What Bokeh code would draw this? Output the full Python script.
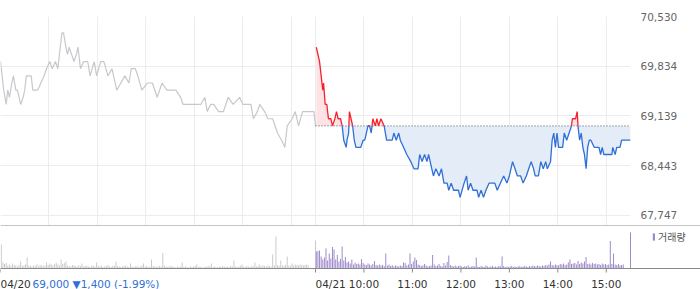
import numpy as np
from bokeh.plotting import figure
from bokeh.layouts import column
from bokeh.models import (Range1d, FixedTicker, NumeralTickFormatter, Span,
                          Legend, LegendItem)
from bokeh.core.properties import value
from bokeh.embed import file_html
from bokeh.resources import INLINE

# ---------------- data ----------------
SESSION = 390           # minutes 09:00-15:30
day_labels = ["04/20", "04/21"]
time_labels = ["10:00", "11:00", "12:00", "13:00", "14:00", "15:00"]
y_ticks = [67747, 68443, 69139, 69834, 70530]

day1_close = 69000
day1_change = -1400
day1_pct = -1.99

# minutes after 09:00, price
day1_time = [0, 2, 4, 7, 9, 11, 14, 16, 19, 21, 25, 28, 30, 32, 38, 40, 46, 50, 54, 57,
             61, 64, 68, 71, 73, 76, 78, 81, 83, 85, 88, 91, 94, 96, 99, 103, 108, 111, 116, 119,
             124, 128, 133, 138, 144, 149, 154, 159, 162, 167, 170, 175, 182, 188, 194, 200, 206, 210, 217, 223,
             226, 233, 239, 248, 253, 256, 260, 264, 270, 276, 282, 288, 296, 300, 310, 313, 318, 321, 327, 331,
             337, 343, 348, 352, 355, 361, 365, 369, 374, 380, 388, 390]
day1_price = [69900, 69700, 69500, 69300, 69500, 69400, 69600, 69700, 69500, 69500, 69300, 69400, 69500, 69700, 69700, 69500, 69500, 69600, 69700, 69800,
              69900, 69800, 69900, 69800, 70000, 70300, 70300, 70100, 70000, 70100, 70000, 69900, 70000, 70100, 69800, 69900, 69900, 69700, 69900, 69700,
              69900, 69900, 69700, 69800, 69500, 69600, 69700, 69600, 69800, 69800, 69700, 69500, 69600, 69600, 69400, 69600, 69500, 69500, 69500, 69400,
              69300, 69300, 69300, 69300, 69400, 69200, 69300, 69300, 69200, 69200, 69400, 69300, 69400, 69300, 69300, 69100, 69200, 69300, 69200, 69100,
              69100, 68900, 68800, 68700, 69000, 69100, 69200, 69000, 69200, 69200, 69200, 69000]

day2_time = [1, 5, 7, 9, 10, 12, 14, 16, 19, 21, 24, 26, 28, 31, 33, 35, 38, 39, 41, 42,
             44, 46, 48, 50, 56, 59, 61, 63, 65, 67, 69, 71, 74, 76, 78, 81, 85, 88, 91, 95,
             97, 100, 103, 105, 109, 113, 118, 122, 127, 129, 132, 135, 138, 140, 144, 146, 149, 153, 156, 159,
             163, 165, 168, 171, 177, 179, 184, 187, 189, 192, 195, 200, 202, 205, 208, 211, 215, 218, 222, 225,
             229, 233, 237, 240, 244, 247, 250, 254, 257, 261, 264, 267, 270, 272, 276, 279, 282, 285, 287, 291,
             293, 295, 297, 299, 301, 306, 308, 311, 314, 317, 318, 322, 324, 325, 327, 329, 331, 333, 335, 337,
             339, 341, 345, 351, 353, 355, 357, 361, 367, 368, 371, 373, 377, 379, 390]
day2_price = [70100, 69900, 69700, 69500, 69600, 69300, 69300, 69100, 69100, 69000, 69100, 69200, 69100, 69100, 69000, 68800, 68700, 68800, 68900, 69200,
              69100, 69000, 68800, 68700, 68700, 68800, 68800, 68900, 69000, 69000, 68900, 69100, 69000, 69100, 69000, 69100, 69000, 68800, 68800, 68800,
              68900, 68800, 68900, 68800, 68700, 68600, 68500, 68400, 68400, 68600, 68500, 68600, 68500, 68600, 68400, 68300, 68400, 68300, 68400, 68200,
              68200, 68100, 68200, 68100, 68100, 68000, 68200, 68300, 68100, 68200, 68100, 68100, 68000, 68100, 68000, 68100, 68200, 68200, 68200, 68100,
              68200, 68300, 68200, 68300, 68500, 68400, 68300, 68300, 68200, 68300, 68400, 68500, 68400, 68300, 68300, 68500, 68400, 68500, 68400, 68500,
              68800, 68900, 68700, 68900, 68700, 68700, 68900, 68800, 68900, 69000, 69100, 69100, 69200, 69000, 68800, 68900, 68700, 68600, 68400, 68700,
              68800, 68800, 68700, 68700, 68600, 68700, 68600, 68600, 68600, 68700, 68600, 68700, 68700, 68800, 68800]

# volume per 2-minute bin 09:00-15:20 (thousand shares), plus closing auction
day1_vol = [240, 60, 45, 55, 30, 40, 25, 50, 35, 30,
            20, 35, 70, 25, 30, 40, 110, 30, 25, 20,
            30, 25, 40, 20, 35, 30, 25, 30, 60, 35,
            50, 40, 30, 45, 55, 40, 30, 90, 45, 55,
            70, 30, 25, 20, 35, 30, 25, 20, 30, 25,
            50, 20, 25, 30, 20, 15, 30, 25, 20, 60,
            25, 20, 30, 15, 20, 25, 35, 20, 15, 25,
            30, 70, 25, 20, 15, 20, 25, 30, 20, 15,
            50, 20, 15, 20, 25, 15, 20, 30, 50, 20,
            25, 15, 20, 90, 25, 20, 15, 20, 25, 20,
            155, 25, 20, 15, 20, 25, 20, 15, 10, 20,
            15, 20, 60, 15, 20, 15, 10, 20, 15, 20,
            25, 40, 15, 20, 15, 10, 20, 15, 25, 20,
            50, 15, 20, 10, 15, 20, 15, 25, 20, 15,
            20, 15, 25, 20, 80, 20, 15, 20, 25, 40,
            20, 15, 25, 20, 15, 25, 20, 60, 20, 25,
            40, 20, 30, 25, 20, 30, 25, 20, 140, 30,
            320, 35, 25, 80, 30, 25, 35, 120, 30, 25,
            50, 30, 40, 35, 30, 40, 35, 30, 35, 40,
            30]
day1_close_vol = 280
day2_vol = [170, 175, 180, 120, 90, 110, 200, 80, 150, 100,
            215, 190, 90, 135, 70, 95, 220, 80, 115, 60,
            70, 50, 90, 40, 60, 45, 50, 40, 95, 55,
            40, 35, 50, 40, 30, 45, 75, 35, 30, 40,
            30, 35, 25, 150, 30, 40, 25, 35, 20, 30,
            25, 20, 30, 25, 60, 55, 30, 40, 150, 45,
            70, 110, 85, 40, 35, 25, 30, 45, 30, 20,
            25, 30, 135, 40, 25, 30, 45, 25, 20, 55,
            30, 65, 130, 35, 25, 20, 30, 20, 25, 30,
            20, 15, 25, 20, 30, 15, 20, 25, 20, 110,
            20, 15, 25, 20, 15, 30, 20, 15, 20, 25,
            15, 20, 15, 25, 20, 120, 25, 15, 20, 15,
            20, 25, 15, 20, 15, 20, 25, 15, 20, 25,
            20, 15, 25, 20, 30, 25, 20, 30, 25, 20,
            30, 25, 35, 30, 40, 70, 35, 30, 40, 35,
            30, 45, 40, 50, 35, 40, 60, 90, 45, 50,
            55, 40, 75, 45, 60, 50, 70, 115, 45, 50,
            40, 55, 45, 50, 40, 45, 35, 50, 40, 45,
            35, 40, 275, 45, 150, 40, 35, 45, 30, 35,
            40]
day2_close_vol = 360

# ---------------- styling ----------------
FONT = "DejaVu Sans"
GRID = "#ececec"
GREY_LINE = "#c6c8cc"
RED = "#f5222d"
BLUE = "#2f6fd6"
RED_FILL = "#fde3e6"
BLUE_FILL = "#e4ecf8"
VOL_GREY = "#c9c9cc"
VOL_PURPLE = "#9b87c9"
AXIS = "#8a8a8a"

PLOT_W = 630
TOTAL = 2 * SESSION

# ---------------- price panel ----------------
p = figure(frame_width=PLOT_W, frame_height=209, x_range=Range1d(0, TOTAL),
           y_range=Range1d(67607, 70530), output_backend="svg", toolbar_location=None,
           min_border_top=16, min_border_bottom=0, min_border_left=0, min_border_right=70,
           y_axis_location="right", outline_line_color=None,
           background_fill_color="white", border_fill_color="white")
p.xaxis.visible = False
hour_ticks = [60 * k for k in range(7)] + [SESSION + 60 * k for k in range(7)]
p.xgrid.ticker = FixedTicker(ticks=hour_ticks)
p.xgrid.grid_line_color = GRID
p.ygrid.grid_line_color = GRID
p.yaxis.ticker = FixedTicker(ticks=y_ticks)
p.yaxis.formatter = NumeralTickFormatter(format="0,0")
p.yaxis.axis_line_color = None
p.yaxis.major_tick_line_color = None
p.yaxis.minor_tick_line_color = None
p.yaxis.major_tick_out = 0
p.yaxis.major_tick_in = 0
p.yaxis.major_label_standoff = 10
p.yaxis.major_label_text_font = FONT
p.yaxis.major_label_text_font_size = "10.5px"
p.yaxis.major_label_text_color = "#666666"

# previous day (grey)
p.line(day1_time, day1_price, line_color=GREY_LINE, line_width=1.2)

# current day split around previous close
base = day1_close
t2 = np.array(day2_time, dtype=float)
v2 = np.array(day2_price, dtype=float)
xs, ys = [t2[0]], [v2[0]]
for i in range(1, len(t2)):
    a, b = v2[i - 1] - base, v2[i] - base
    if a * b < 0:
        f = a / (a - b)
        xs.append(t2[i - 1] + f * (t2[i] - t2[i - 1]))
        ys.append(base)
    xs.append(t2[i])
    ys.append(v2[i])
xs = np.array(xs) + SESSION
ys = np.array(ys)

p.varea(x=xs, y1=np.full_like(ys, base), y2=np.maximum(ys, base), fill_color=RED_FILL)
p.varea(x=xs, y1=np.full_like(ys, base), y2=np.minimum(ys, base), fill_color=BLUE_FILL)
p.line([SESSION + t2[0] - 1, TOTAL], [base, base], line_color="#555555", line_width=1,
       line_dash="1 2")
p.line(xs, np.where(ys <= base, ys, np.nan), line_color=BLUE, line_width=1.3)
p.line(xs, np.where(ys >= base, ys, np.nan), line_color=RED, line_width=1.3)

# ---------------- volume panel (bars + hand-made time axis inside frame) ----------------
U = 10.0                      # volume units per pixel
BAR_PX = 43                   # bar area height in px
LABEL_PX = 21                 # area below the axis line
q = figure(frame_width=700, frame_height=BAR_PX + LABEL_PX,
           x_range=Range1d(0, TOTAL * 700 / PLOT_W), y_range=Range1d(-LABEL_PX * U, BAR_PX * U),
           output_backend="svg", toolbar_location=None, min_border=0,
           x_axis_location=None, y_axis_location=None, outline_line_color=None,
           background_fill_color="white", border_fill_color="white")
q.grid.visible = False
d1_t = [2 * i + 1 for i in range(len(day1_vol))] + [SESSION]
d1_v = day1_vol + [day1_close_vol]
d2_t = [SESSION + 2 * i + 1 for i in range(len(day2_vol))] + [TOTAL]
d2_v = day2_vol + [day2_close_vol]
q.vbar(x=d1_t, top=d1_v, width=1.2, fill_color=VOL_GREY, line_color=None)
vb2 = q.vbar(x=d2_t, top=d2_v, width=1.2, fill_color=VOL_PURPLE, line_color=None)
q.add_layout(Span(location=BAR_PX * U, dimension="width", line_color=AXIS, line_width=1))
q.add_layout(Span(location=0, dimension="width", line_color=AXIS, line_width=1))

# ticks
x_ticks = [0, SESSION] + [SESSION + 60 * (k + 1) for k in range(len(time_labels))]
q.segment(x0=x_ticks, y0=[0] * len(x_ticks), x1=x_ticks, y1=[-4 * U] * len(x_ticks),
          line_color=AXIS, line_width=1)

LAB_Y = -9.5 * U
time_x = [SESSION + 60 * (k + 1) for k in range(len(time_labels))]
q.text(x=time_x, y=[LAB_Y] * len(time_x), text=time_labels, text_font=value(FONT),
       text_font_size="10.5px", text_color="#333333", text_align="center", text_baseline="top")
q.text(x=[0, SESSION], y=[LAB_Y, LAB_Y], text=day_labels, text_font=value(FONT),
       text_font_size="10.5px", text_color="#333333", text_align="left", text_baseline="top")
q.text(x=[0], y=[LAB_Y], x_offset=32,
       text=[f"{day1_close:,} \u25bc{abs(day1_change):,} ({day1_pct:.2f}%)"],
       text_font=value(FONT), text_font_size="10.5px", text_color=BLUE,
       text_align="left", text_baseline="top")

leg = Legend(items=[LegendItem(label="거래량", renderers=[vb2])], location=(652, 45),
             glyph_width=3, glyph_height=9, label_height=9, label_standoff=3,
             label_text_font="Noto Sans CJK KR", label_text_font_size="10px",
             label_text_color="#555555", background_fill_alpha=0, border_line_color=None,
             padding=0, margin=0, spacing=0)
q.add_layout(leg)

layout = column(p, q, spacing=0)
open("out.html", "w").write(file_html(layout, INLINE))
